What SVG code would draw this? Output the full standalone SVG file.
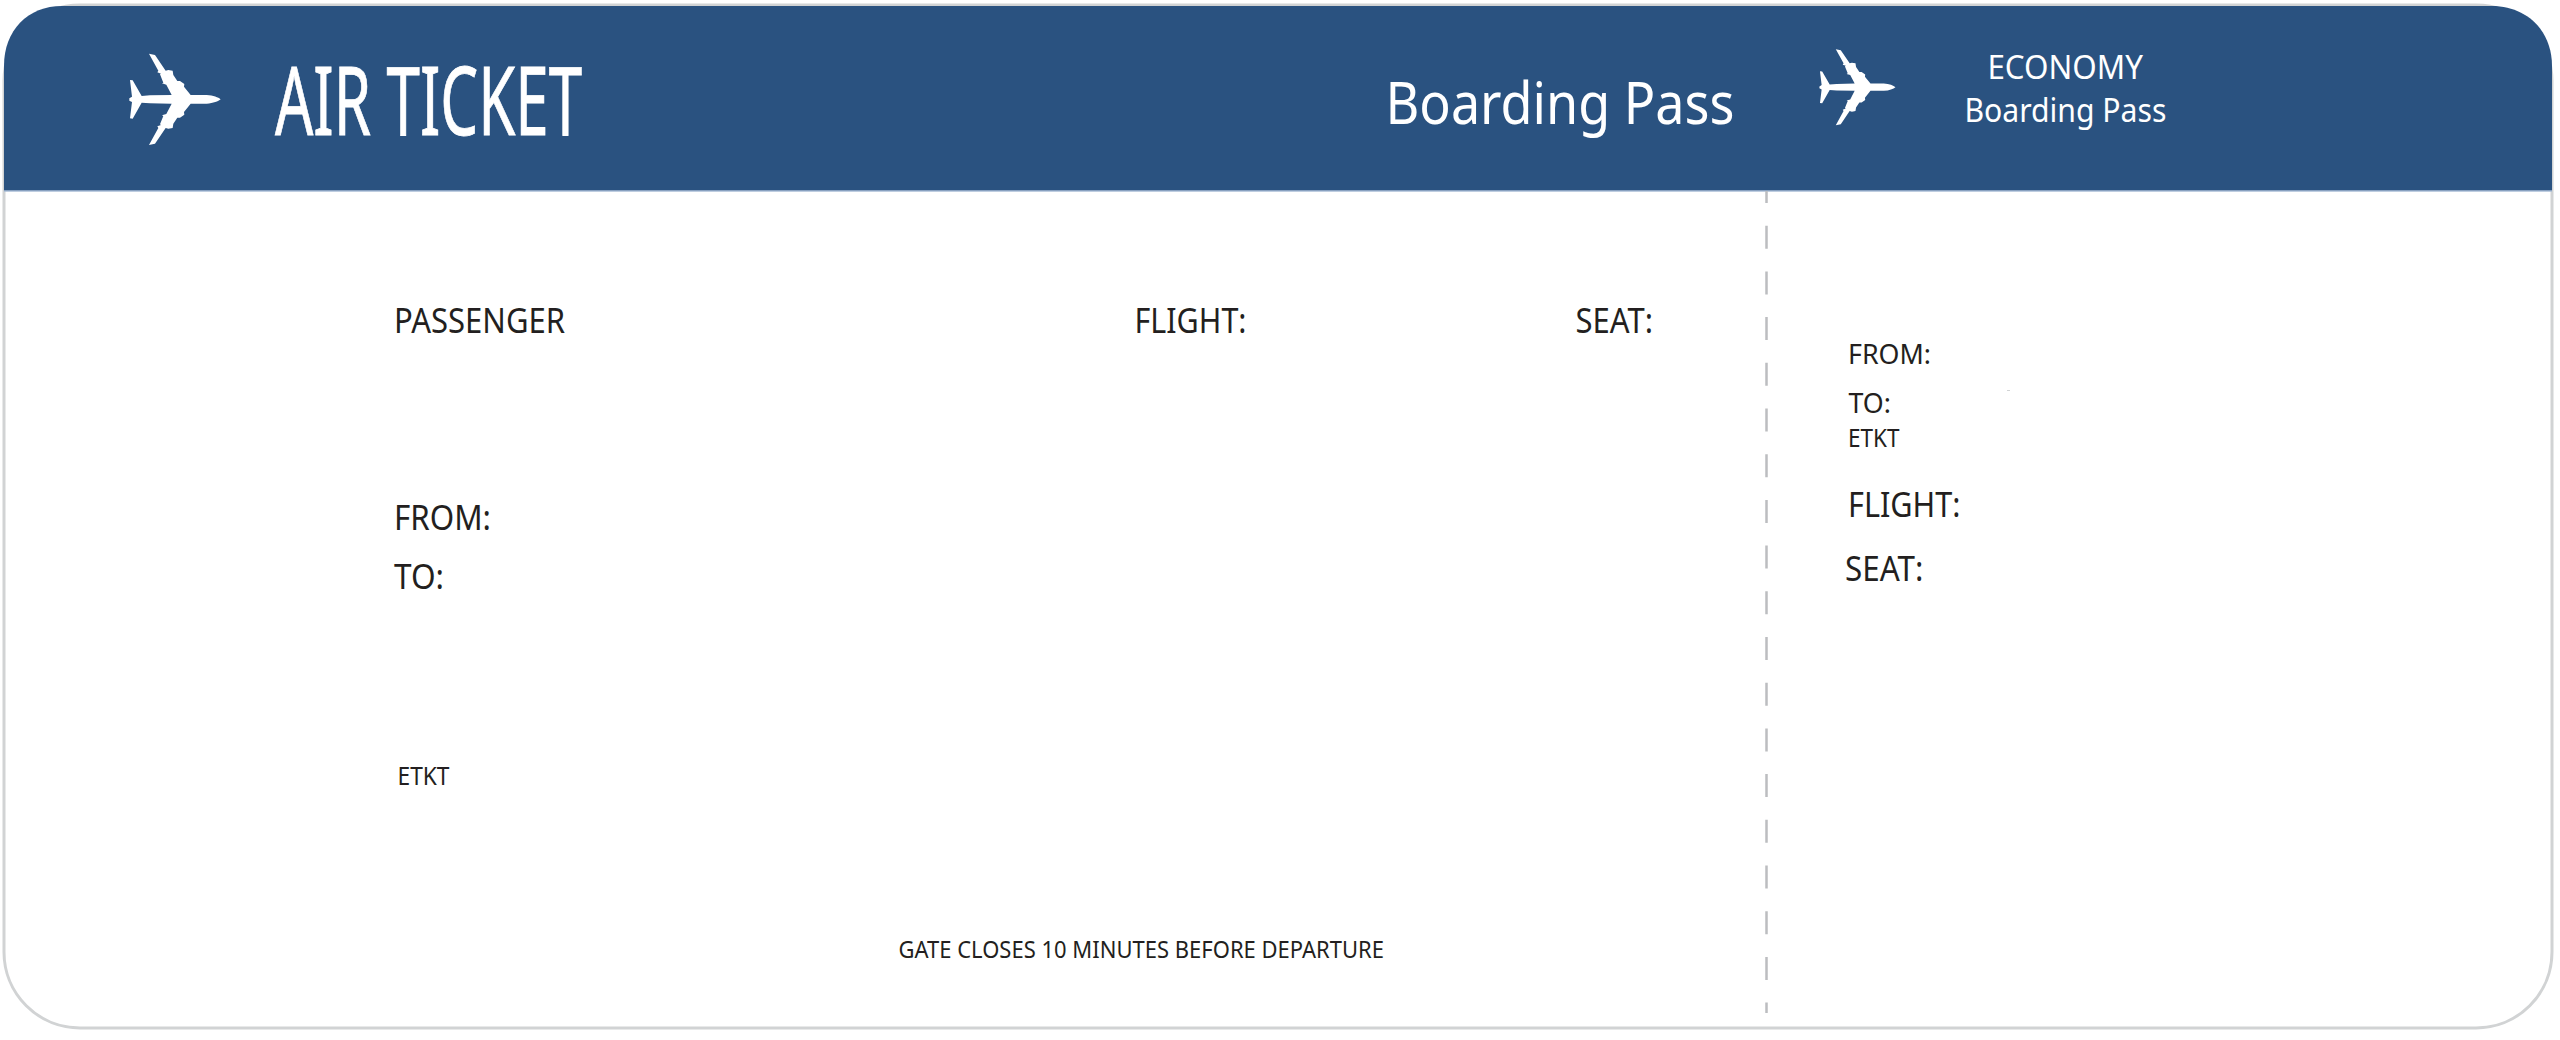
<svg xmlns="http://www.w3.org/2000/svg" xmlns:xlink="http://www.w3.org/1999/xlink" width="2560" height="1040" viewBox="0 0 2560 1040">
<style>
text{font-family:"Noto Sans","Open Sans","Liberation Sans",sans-serif;fill:#231f20}
.w{fill:#fff}
</style>
<defs>
<path id="plane" fill="#fff" d="M362 208C355 202 340 196 320 195L272 195L252 170L253 162L240 153L232 153L220 135L218 122L205 120L197 122L165 75L147 71L175 122L172 127L183 131L180 133L190 158L186 160L199 164L215 195L150 196L125 198L98 151L90 150L96 200L88 205L88 212L96 216L90 265L98 266L125 218L150 220L215 221L199 252L186 256L190 258L180 283L183 285L172 289L175 294L147 345L165 341L197 294L205 296L218 294L220 281L232 263L240 263L253 254L252 246L272 221L320 221C340 220 355 214 362 208Z"/>
</defs>
<rect width="2560" height="1040" fill="#fff"/>
<g id="ticket">
<rect x="4" y="5" width="2548" height="1023" rx="76" ry="76" fill="#fff" stroke="#d1d3d4" stroke-width="3"/>
</g>
<g id="banner">
<path d="M4 191V66C4 30 28 6 62 6H2492C2526 6 2552 30 2552 66V191Z" fill="#2a5280"/>
<path d="M4 191H2552" stroke="#a9bdd6" stroke-width="1.500" fill="none"/>
</g>
<g id="connectors">
<path d="M1766.500 191V1013" fill="none" stroke="#bcbdc0" stroke-width="2.500" stroke-dasharray="23 22.700" stroke-dashoffset="11"/>
<path d="M2007 390.500H2010" stroke="#d1d3d4" stroke-width="1"/>
</g>
<g id="plane-left"><use href="#plane" xlink:href="#plane" transform="translate(100 30) scale(.3333)"/></g>
<g id="plane-right"><use href="#plane" xlink:href="#plane" transform="translate(1795 29.500) scale(.2775)"/></g>
<g id="title"><text class="w" x="275" y="135" font-size="95" textLength="307" lengthAdjust="spacingAndGlyphs" stroke="#fff" stroke-width=".8">AIR TICKET</text></g>
<g id="boarding"><text class="w" x="1385.500" y="124" font-size="58" textLength="349" lengthAdjust="spacingAndGlyphs">Boarding Pass</text></g>
<g id="economy"><text class="w" x="1987.400" y="79" font-size="33" textLength="155.500" lengthAdjust="spacingAndGlyphs">ECONOMY</text>
<text class="w" x="1964.400" y="122" font-size="33" textLength="202" lengthAdjust="spacingAndGlyphs">Boarding Pass</text></g>
<g id="main-fields">
<text x="394" y="333" font-size="34" textLength="171" lengthAdjust="spacingAndGlyphs">PASSENGER</text>
<text x="1134.500" y="333" font-size="34" textLength="112" lengthAdjust="spacingAndGlyphs">FLIGHT:</text>
<text x="1575.500" y="333" font-size="34" textLength="77.500" lengthAdjust="spacingAndGlyphs">SEAT:</text>
<text x="394" y="530" font-size="34" textLength="97" lengthAdjust="spacingAndGlyphs">FROM:</text>
<text x="394" y="589" font-size="34" textLength="50" lengthAdjust="spacingAndGlyphs">TO:</text>
<text x="397.500" y="785" font-size="25" textLength="52" lengthAdjust="spacingAndGlyphs">ETKT</text>
<text x="898.500" y="957.500" font-size="24" textLength="485.500" lengthAdjust="spacingAndGlyphs">GATE CLOSES 10 MINUTES BEFORE DEPARTURE</text>
</g>
<g id="stub-fields">
<text x="1848" y="364" font-size="27" textLength="83" lengthAdjust="spacingAndGlyphs">FROM:</text>
<text x="1848.500" y="413" font-size="27" textLength="42.500" lengthAdjust="spacingAndGlyphs">TO:</text>
<text x="1848" y="447" font-size="25" textLength="51.500" lengthAdjust="spacingAndGlyphs">ETKT</text>
<text x="1848" y="517" font-size="34" textLength="112.500" lengthAdjust="spacingAndGlyphs">FLIGHT:</text>
<text x="1845" y="581" font-size="34" textLength="78.400" lengthAdjust="spacingAndGlyphs">SEAT:</text>
</g>
</svg>
